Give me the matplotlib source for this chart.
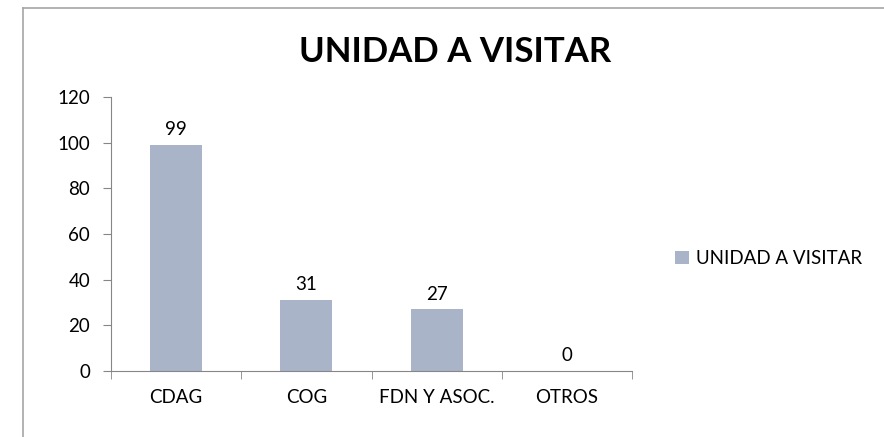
import matplotlib.pyplot as plt
from matplotlib.lines import Line2D

# data
categories = ["CDAG", "COG", "FDN Y ASOC.", "OTROS"]
values = [99, 31, 27, 0]
yticks = [0, 20, 40, 60, 80, 100, 120]

bar_color = "#A9B4C9"
axis_color = "#868686"
plt.rcParams['font.family'] = ['Lato', 'DejaVu Sans']
fs = 13.5

W, H = 884, 437
fig = plt.figure(figsize=(W / 100, H / 100), dpi=100)

# chart border: only the top and left edges fall inside the picture
bx, by = 22.5 / W, 1 - 7.5 / H
fig.lines.append(Line2D([bx, 1.0], [by, by], transform=fig.transFigure,
                        color="#A6A6A6", linewidth=1.2))
fig.lines.append(Line2D([bx, bx], [0.0, by], transform=fig.transFigure,
                        color="#A6A6A6", linewidth=1.2))

ax = fig.add_axes([111 / W, 1 - 371 / H, (632 - 111) / W, (371 - 97) / H])
x = list(range(len(categories)))
bars = ax.bar(x, values, width=0.4, color=bar_color, label="UNIDAD A VISITAR")
for xi, v in zip(x, values):
    ax.text(xi, v + 3, str(v), ha="center", va="bottom", fontsize=fs)

ax.set_xlim(-0.5, len(categories) - 0.5)
ax.set_ylim(0, 120)
ax.set_yticks(yticks)
ax.set_yticklabels([str(t) for t in yticks], fontsize=fs)
ax.set_xticks(x)
ax.set_xticklabels(categories, fontsize=fs)
ax.tick_params(axis="x", length=0, pad=13)
ax.set_xticks([i - 0.5 for i in range(len(categories) + 1)], minor=True)
ax.tick_params(axis="x", which="minor", length=6, color=axis_color)
ax.tick_params(axis="y", length=6, color=axis_color, pad=9)

for side in ["top", "right"]:
    ax.spines[side].set_visible(False)
for side in ["left", "bottom"]:
    ax.spines[side].set_color(axis_color)

fig.text(455 / W, 1 - 52 / H, "UNIDAD A VISITAR", ha="center", va="center",
         fontsize=25, fontweight="bold")

ax.legend(loc="center left", bbox_to_anchor=(1.05, 0.41), frameon=False,
          fontsize=fs, handlelength=0.75, handleheight=0.75, handletextpad=0.4)

fig.savefig("out.png", dpi=100)
